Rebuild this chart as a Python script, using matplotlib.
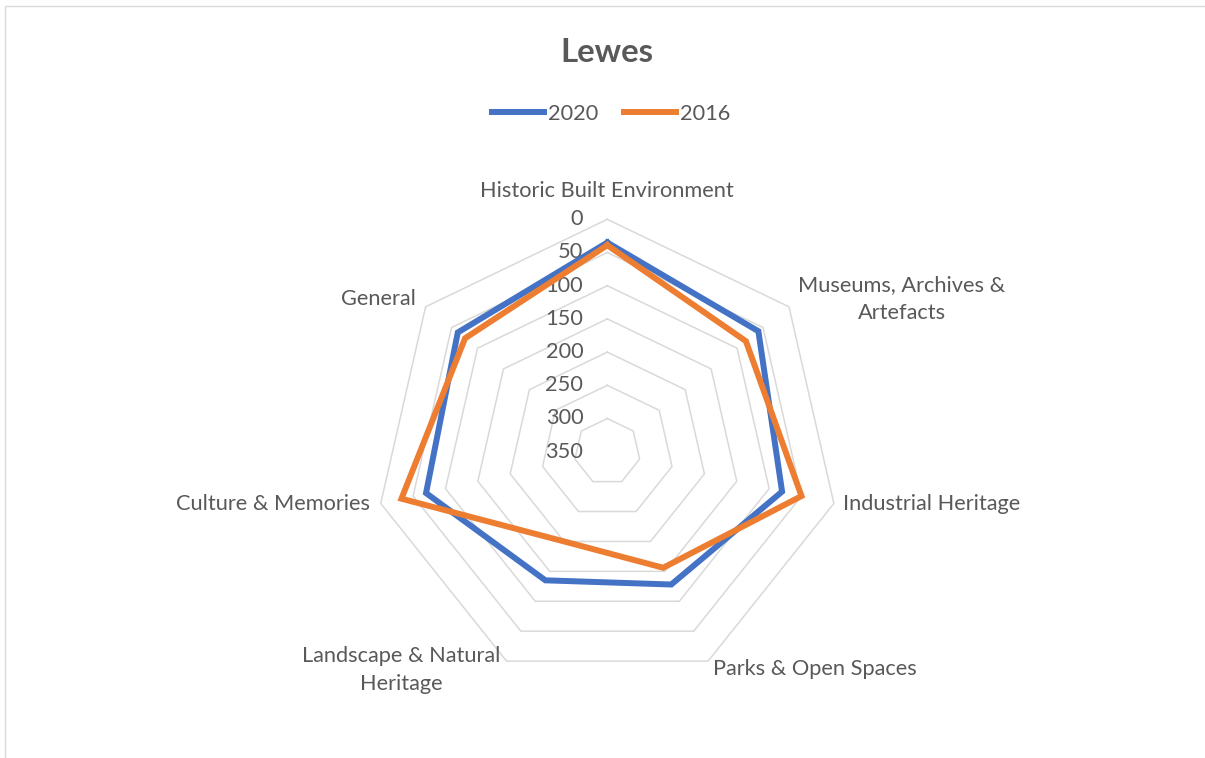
import numpy as np
import matplotlib
matplotlib.use("Agg")
import matplotlib.pyplot as plt
from matplotlib.transforms import offset_copy
from matplotlib.patches import Rectangle

categories = ["Historic Built Environment", "Museums, Archives &\nArtefacts",
              "Industrial Heritage", "Parks & Open Spaces",
              "Landscape & Natural\nHeritage", "Culture & Memories", "General"]
values_2020 = [35, 59, 80, 128, 135, 70, 62]
values_2016 = [39, 83, 50, 156, 200, 32, 76]
ring_values = [0, 50, 100, 150, 200, 250, 300, 350]
series_names = ["2020", "2016"]
title = "Lewes"

BLUE = "#4472C4"
ORANGE = "#ED7D31"
GRID = "#D9D9D9"
TXT = "#595959"
FONT = ["Lato", "DejaVu Sans"]
plt.rcParams["font.family"] = FONT
FS = 15.7

W, H = 1205, 758
fig = plt.figure(figsize=(W / 100, H / 100), dpi=100)
cx, cy, R = 607.3, 451.7, 232.4
ax = fig.add_axes([(cx - R) / W, (H - cy - R) / H, 2 * R / W, 2 * R / H],
                  projection="polar")
ax.set_theta_zero_location("N")
ax.set_theta_direction(-1)
ax.set_rlim(350, 0)
ax.grid(False)
ax.spines["polar"].set_visible(False)
ax.set_xticks([])
ax.set_yticks([])
ax.patch.set_alpha(0)

n = len(categories)
ang = np.linspace(0, 2 * np.pi, n, endpoint=False)
ang_c = np.append(ang, ang[0])

for v in ring_values[:-1]:
    ax.plot(ang_c, [v] * (n + 1), color=GRID, lw=1.1, clip_on=False, zorder=1)

tr = offset_copy(ax.transData, fig=fig, x=-24, y=0, units="dots")
for v in ring_values:
    ax.text(0, v, str(v), transform=tr, ha="right", va="center",
            fontsize=FS, color=TXT)

for vals, col, name in [(values_2020, BLUE, series_names[0]),
                        (values_2016, ORANGE, series_names[1])]:
    ax.plot(ang_c, vals + vals[:1], color=col, lw=4.3, clip_on=False,
            solid_joinstyle="miter", zorder=3, label=name)

# category labels (pixel positions)
lab_pos = [(607, 191, "center"), (902, 299, "center"), (843, 504, "left"),
           (713, 669, "left"), (401, 670, "center"), (370, 504, "right"),
           (416, 299, "right")]
for cat, (x, y, ha) in zip(categories, lab_pos):
    fig.text(x / W, 1 - y / H, cat, ha=ha, va="center", fontsize=FS,
             color=TXT, linespacing=1.55, multialignment="center")

fig.text(607 / W, 1 - 52 / H, title, ha="center", va="center",
         fontsize=23.8, fontweight="bold", color=TXT)

leg = fig.legend(loc="center", bbox_to_anchor=(611 / W, 1 - 114 / H), ncol=2,
                 frameon=False, fontsize=FS, handlelength=2.4,
                 handletextpad=0.15, columnspacing=1.2)
for t in leg.get_texts():
    t.set_color(TXT)

fig.patches.append(Rectangle((5 / W, -0.05), 1.1, (H - 6) / H + 0.05,
                             transform=fig.transFigure, fill=False,
                             edgecolor=GRID, lw=1.0))

fig.savefig("out.png", dpi=100, facecolor="white")
